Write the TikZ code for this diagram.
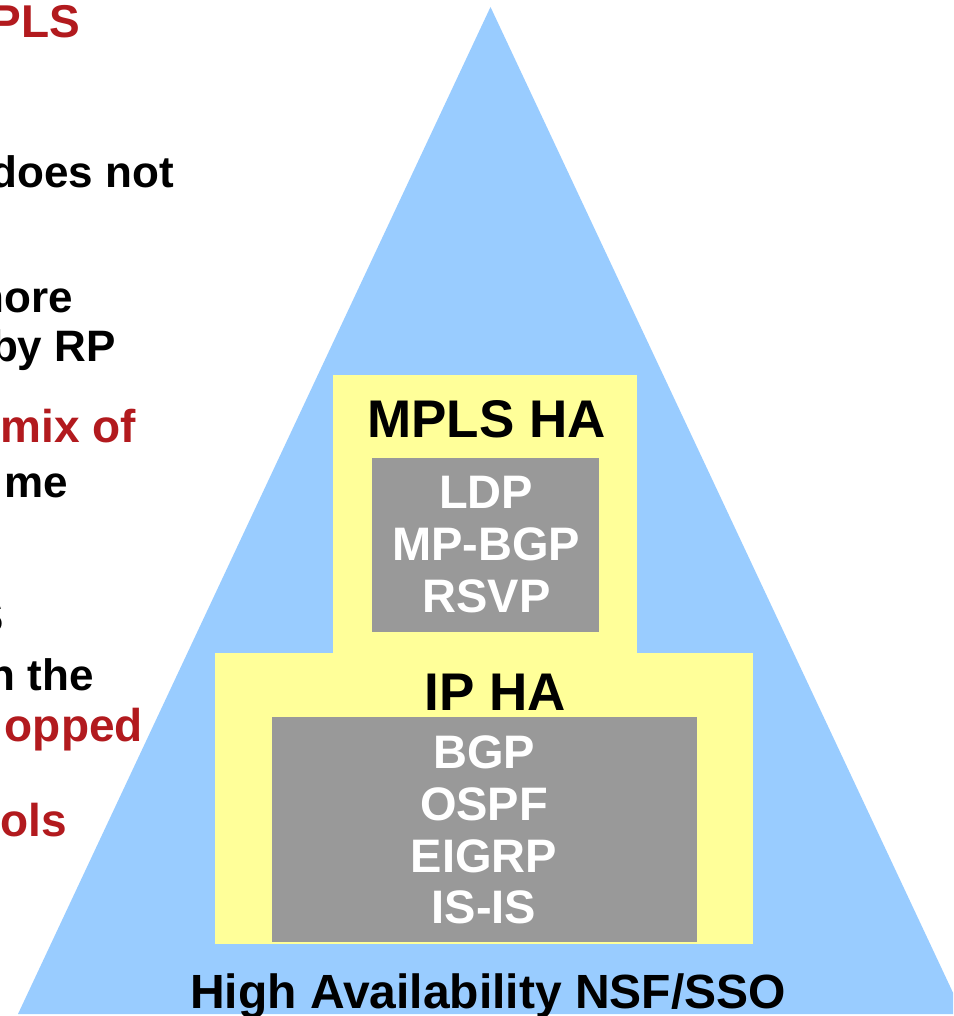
\documentclass[tikz,border=0pt]{standalone}
\usepackage{fontspec}
\setmainfont{Liberation Sans}
\definecolor{triblue}{RGB}{153,204,255}
\definecolor{hayellow}{RGB}{255,255,153}
\definecolor{protogray}{RGB}{153,153,153}
\definecolor{slidered}{RGB}{178,26,30}
\begin{document}
\begin{tikzpicture}[x=1pt,y=-1pt,
  boxbase/.style={inner sep=0pt, outer sep=0pt, anchor=north west},
  yellowbox/.style={boxbase, fill=hayellow},
  graybox/.style={boxbase, fill=protogray},
  bigtitle/.style={inner sep=0pt, anchor=base, text=black, font=\bfseries\fontsize{53}{53}\selectfont},
  prototxt/.style={inner sep=0pt, anchor=base, text=white, font=\bfseries\fontsize{47}{47}\selectfont},
  basetxt/.style={inner sep=0pt, anchor=base, text=black, font=\bfseries\fontsize{48}{48}\selectfont},
  sidetxt/.style={inner sep=0pt, anchor=base east, text=black, font=\bfseries\fontsize{44}{44}\selectfont},
  sidered/.style={sidetxt, text=slidered, font=\bfseries\fontsize{46}{46}\selectfont}
]
\useasboundingbox (0,0) rectangle (953,1016);
\fill[white] (0,0) rectangle (953,1016);
\clip (0,0) rectangle (953,1016);

% pyramid
\coordinate (apex) at (490.5,7);
\coordinate (baseL) at (18,1014);
\coordinate (baseR) at (963,1014);
\fill[triblue] (apex) -- (baseR) -- (baseL) -- cycle;

% boxes
\node[yellowbox, minimum width=304pt, minimum height=279pt] (mplsbox) at (333,375) {};
\node[yellowbox, minimum width=538pt, minimum height=291pt] (ipbox) at (215,653) {};
\node[graybox, minimum width=227pt, minimum height=174pt] (mplsproto) at (372,458) {};
\node[graybox, minimum width=425pt, minimum height=225pt] (ipproto) at (272,717) {};

% titles
\node[bigtitle] (mplsha) at (486.5,437) {MPLS HA};
\node[bigtitle] (ipha) at (495,710) {IP HA};

% protocols
\node[prototxt] (ldp) at (486,508) {LDP};
\node[prototxt] (mpbgp) at (486,560) {MP-BGP};
\node[prototxt] (rsvp) at (486.5,612) {RSVP};
\node[prototxt] (bgp) at (484,768) {BGP};
\node[prototxt] (ospf) at (484,820) {OSPF};
\node[prototxt] (eigrp) at (484,872) {EIGRP};
\node[prototxt] (isis) at (484,923) {IS-IS};

\node[basetxt] (hansf) at (488,1008) {High Availability NSF/SSO};

% clipped slide text on the left
\node[sidered] (t1) at (80,38) {PLS};
\node[sidetxt] (t2) at (174,188) {does not};
\node[sidetxt] (t3) at (73,312) {nore};
\node[sidetxt] (t4) at (116,361) {by RP};
\node[sidered] (t5) at (136,442) {mix of};
\node[sidetxt] (t6) at (68,497) {me};
\node[sidetxt] (t7) at (4,632) {S};
\node[sidetxt] (t8) at (94,690) {n the};
\node[sidered] (t9) at (143,741) {opped};
\node[sidered] (t10) at (67,836) {ols};
\end{tikzpicture}
\end{document}
